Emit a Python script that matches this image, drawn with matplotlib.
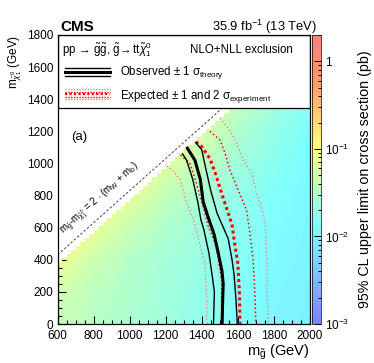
"""
Gluino pair production limit plot (CMS style) - mass plane with
cross section upper limit as colour and exclusion contours on top.
"""

import numpy as np
import matplotlib
matplotlib.use("Agg")
import matplotlib.pyplot as plt
from matplotlib.colors import LinearSegmentedColormap, LogNorm
from matplotlib.ticker import MultipleLocator, LogLocator, FuncFormatter, NullFormatter
from matplotlib.patches import Rectangle

plt.rcParams['font.family'] = ['Liberation Sans', 'DejaVu Sans']
plt.rcParams['mathtext.fontset'] = 'custom'
plt.rcParams['mathtext.rm'] = 'Liberation Sans'
plt.rcParams['mathtext.it'] = 'Liberation Sans:italic'
plt.rcParams['mathtext.bf'] = 'Liberation Sans:bold'

# ---- data ----
MGL_NODES = [600, 800, 1000, 1200, 1400, 1600, 1800, 2000]
MCHI_NODES = [0, 200, 400, 600, 800, 1000, 1200, 1400, 1600, 1800]
# log10 of the 95% CL upper limit (pb), one row per neutralino mass
LOG10_LIMIT = [
    [-1.38, -1.48, -1.57, -1.66, -1.75, -1.85, -1.95, -2.00],
    [-1.30, -1.44, -1.54, -1.64, -1.73, -1.83, -1.93, -2.00],
    [-1.12, -1.35, -1.50, -1.61, -1.70, -1.80, -1.90, -1.98],
    [-0.95, -1.15, -1.38, -1.54, -1.66, -1.78, -1.88, -1.96],
    [-0.95, -1.00, -1.18, -1.42, -1.58, -1.73, -1.85, -1.94],
    [-0.95, -0.95, -1.00, -1.22, -1.45, -1.65, -1.80, -1.92],
    [-0.95, -0.95, -0.95, -1.05, -1.27, -1.55, -1.73, -1.88],
    [-0.95, -0.95, -0.95, -0.95, -1.12, -1.40, -1.65, -1.82],
    [-0.95, -0.95, -0.95, -0.95, -1.00, -1.30, -1.55, -1.75],
    [-0.95, -0.95, -0.95, -0.95, -0.95, -1.12, -1.45, -1.68],
]

# observed contour and +-1 sigma theory
obs_x = [1320, 1362, 1392, 1408, 1440, 1468, 1492, 1512, 1519, 1516, 1513]
obs_y = [1095, 1020, 900, 760, 650, 560, 440, 330, 250, 150, 0]
obs_dn_x = [1293, 1316, 1350, 1378, 1395, 1412, 1440, 1458, 1470, 1465]
obs_dn_y = [1060, 1020, 900, 760, 650, 585, 440, 300, 200, 0]
obs_up_x = [1367, 1400, 1420, 1450, 1485, 1520, 1547, 1568, 1580, 1590, 1597]
obs_up_y = [1130, 1085, 980, 830, 690, 600, 530, 400, 300, 150, 0]

# expected contour and +-1, +-2 sigma experiment
exp_x = [1367, 1400, 1445, 1475, 1500, 1538, 1568, 1580, 1600, 1610, 1612]
exp_y = [1135, 1105, 1030, 940, 850, 720, 620, 520, 380, 170, 0]
exp_dn1_x = [1282, 1334, 1371, 1408, 1436, 1465, 1480, 1495, 1510, 1510]
exp_dn1_y = [1052, 1000, 876, 730, 606, 530, 480, 380, 274, 0]
exp_up1_x = [1445, 1501, 1530, 1556, 1602, 1649, 1667, 1685, 1695, 1700]
exp_up1_y = [1200, 1146, 1063, 960, 834, 710, 565, 398, 191, 0]
exp_dn2_x = [1205, 1245, 1280, 1316, 1350, 1375, 1400, 1418, 1427, 1428]
exp_dn2_y = [985, 950, 897, 760, 660, 560, 450, 378, 170, 0]
exp_up2_x = [1501, 1556, 1593, 1630, 1677, 1704, 1741, 1756, 1760, 1763, 1769]
exp_up2_y = [1281, 1208, 1125, 1021, 938, 814, 689, 585, 398, 191, 0]

M_W, M_B = 80.4, 4.18
DM_MIN = 212.5  # smallest mass splitting in the scan
SCAN_STEP = 25

# CMS SUSY pastel palette
cmap = LinearSegmentedColormap.from_list("cms_pastel", [
    (0.00, (0.50, 0.50, 1.00)),
    (0.34, (0.50, 1.00, 1.00)),
    (0.61, (1.00, 1.00, 0.50)),
    (0.84, (1.00, 0.60, 0.40)),
    (1.00, (1.00, 0.50, 0.50)),
])
norm = LogNorm(vmin=1e-3, vmax=2.0)

fig = plt.figure(figsize=(3.74, 3.63), dpi=100)
ax = fig.add_axes([0.154, 0.1074, 0.6746, 0.7962])
cax = fig.add_axes([0.8334, 0.1074, 0.0249, 0.7962])

limit = 10 ** np.array(LOG10_LIMIT)
im = ax.imshow(limit, origin='lower', extent=[500, 2100, -100, 1900],
               aspect='auto', interpolation='bilinear', cmap=cmap, norm=norm,
               zorder=1)

# blank out the region not covered by the scan
edges = np.arange(MGL_NODES[0], MGL_NODES[-1] + SCAN_STEP, SCAN_STEP)
ax.fill_between(edges, edges - DM_MIN, 1900, step='post', color='white',
                lw=0, zorder=2)

# kinematic boundary
diag = np.array([600, 2000])
ax.plot(diag, diag - 2 * (M_W + M_B), color='#444444', lw=0.7,
        ls=(0, (2.5, 2)), zorder=3)
ax.text(632, 565, r"$\mathrm{m}_{\tilde{\mathrm{g}}}$-$\mathrm{m}_{\tilde{\chi}^{0}_{1}}$ = 2 $\cdot$ (m$_{\mathrm{W}}$ + m$_{\mathrm{b}}$)",
        rotation=45, transform_rotates_text=True, rotation_mode='anchor',
        ha='left', va='baseline', fontsize=7, zorder=3)

# contours
pink = '#ee8888'
ax.plot(exp_dn2_x, exp_dn2_y, color=pink, lw=1.0, ls=':', zorder=4)
ax.plot(exp_up2_x, exp_up2_y, color=pink, lw=1.0, ls=':', zorder=4)
ax.plot(exp_dn1_x, exp_dn1_y, color='red', lw=1.1, ls=':', zorder=4)
ax.plot(exp_up1_x, exp_up1_y, color='red', lw=1.1, ls=':', zorder=4)
ax.plot(exp_x, exp_y, color='red', lw=2.2, ls=(0, (1, 1)), zorder=4)
ax.plot(obs_dn_x, obs_dn_y, color='black', lw=1.0, zorder=5)
ax.plot(obs_up_x, obs_up_y, color='black', lw=1.0, zorder=5)
ax.plot(obs_x, obs_y, color='black', lw=2.2, zorder=5)

ax.text(0.055, 0.647, "(a)", transform=ax.transAxes, fontsize=9.5,
        va='center', ha='left', zorder=6)

# legend box on top of the plot
ax.add_patch(Rectangle((0, 0.747), 1, 0.253, transform=ax.transAxes,
                       facecolor='white', edgecolor='black', lw=0.9, zorder=10))
ax.text(0.017, 0.948,
        r"pp$\,\rightarrow\,\tilde{\mathrm{g}}\tilde{\mathrm{g}}$, $\tilde{\mathrm{g}}\!\rightarrow$tt$\tilde{\chi}^{0}_{1}$",
        transform=ax.transAxes, fontsize=8.3, va='center', ha='left', zorder=11)
ax.text(0.727, 0.948, "NLO+NLL exclusion", transform=ax.transAxes,
        fontsize=8.3, va='center', ha='center', zorder=11)

lx = [0.029, 0.207]
for yy, lw in [(0.886, 1.0), (0.872, 2.2), (0.858, 1.0)]:
    ax.plot(lx, [yy, yy], transform=ax.transAxes, color='black', lw=lw, zorder=11)
for yy, col, lw in [(0.812, pink, 1.0), (0.803, 'red', 1.0), (0.795, 'red', 1.6),
                    (0.786, 'red', 1.0), (0.777, pink, 1.0)]:
    ax.plot(lx, [yy, yy], transform=ax.transAxes, color=col, lw=lw,
            ls=(0, (1, 1)), zorder=11)
ax.text(0.247, 0.871, r"Observed $\pm$ 1 $\mathrm{\sigma}_{\mathrm{theory}}$",
        transform=ax.transAxes, fontsize=8.3, va='center', ha='left', zorder=11)
ax.text(0.247, 0.787, r"Expected $\pm$ 1 and 2 $\mathrm{\sigma}_{\mathrm{experiment}}$",
        transform=ax.transAxes, fontsize=8.3, va='center', ha='left', zorder=11)

# axes
ax.set_xlim(600, 2000)
ax.set_ylim(0, 1800)
ax.xaxis.set_major_locator(MultipleLocator(200))
ax.xaxis.set_minor_locator(MultipleLocator(50))
ax.yaxis.set_major_locator(MultipleLocator(200))
ax.yaxis.set_minor_locator(MultipleLocator(50))
ax.tick_params(which='both', direction='in', width=0.8, labelsize=8.5)
ax.tick_params(which='major', length=5.5)
ax.tick_params(which='minor', length=2.8)
ax.tick_params(axis='x', pad=4.5)
ax.tick_params(axis='y', pad=3)
for sp in ax.spines.values():
    sp.set_linewidth(0.9)
    sp.set_zorder(12)

ax.set_xlabel(r"$\mathrm{m}_{\tilde{\mathrm{g}}}$ (GeV)", fontsize=10.5,
              loc='right', labelpad=0)
ax.set_ylabel(r"$\mathrm{m}_{\tilde{\chi}^{0}_{1}}$ (GeV)", fontsize=8.5,
              loc='top', labelpad=2)

# colour bar
cbar = fig.colorbar(im, cax=cax)
cbar.set_ticks([1e-3, 1e-2, 1e-1, 1])
cbar.ax.yaxis.set_major_formatter(
    FuncFormatter(lambda v, p: "1" if v >= 0.99 else r"$10^{%d}$" % round(np.log10(v))))
cbar.ax.yaxis.set_minor_locator(LogLocator(base=10, subs=np.arange(2, 10)))
cbar.ax.yaxis.set_minor_formatter(NullFormatter())
cbar.ax.tick_params(which='both', direction='in', labelsize=8.5, width=0.7, pad=3)
cbar.ax.tick_params(which='major', length=5)
cbar.ax.tick_params(which='minor', length=2.5)
cbar.outline.set_linewidth(0.5)
cbar.set_label("95% CL upper limit on cross section (pb)", fontsize=10.3,
               labelpad=6)

fig.text(60 / 374, 1 - 31 / 363, "CMS", fontsize=11, fontweight='bold',
         ha='left', va='baseline')
fig.text(317 / 374, 1 - 31 / 363, r"35.9 fb$^{\mathrm{-1}}$ (13 TeV)",
         fontsize=9.3, ha='right', va='baseline')

fig.savefig('out.png', dpi=100)
